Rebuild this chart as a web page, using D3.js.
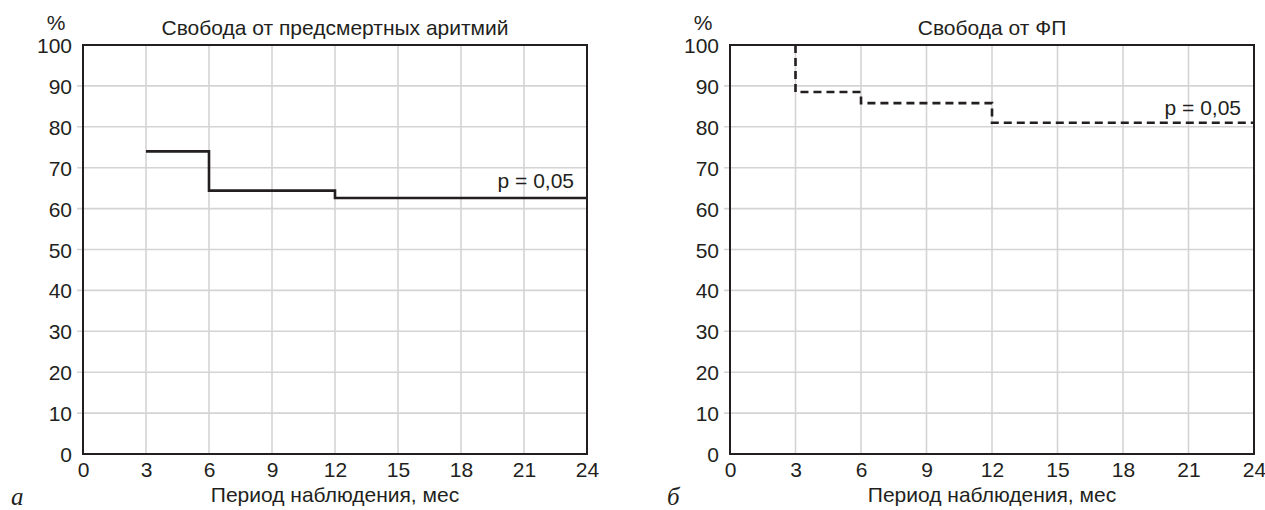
<!DOCTYPE html>
<html><head><meta charset="utf-8">
<script src="https://cdn.jsdelivr.net/npm/d3@7"></script>
<style>html,body{margin:0;padding:0;background:#fff;}svg{display:block;}</style>
</head><body>
<svg id="chart" width="1265" height="510"></svg>
<script>
// Data
const xTicks = [0,3,6,9,12,15,18,21,24];
const yTicks = [0,10,20,30,40,50,60,70,80,90,100];
const titleA = "Свобода от предсмертных аритмий";
const titleB = "Свобода от ФП";
const xLabel = "Период наблюдения, мес";
const pLabel = "p = 0,05";
// Panel A step curve: [month, %]
const stepsA_x = [3, 6, 6, 12, 12, 24];
const stepsA_y = [74, 74, 64.4, 64.4, 62.6, 62.6];
// Panel B step curve
const stepsB_x = [3, 3, 6, 6, 12, 12, 24];
const stepsB_y = [100, 88.5, 88.5, 85.8, 85.8, 81, 81];

const svg = d3.select("#chart");
const font = "Liberation Sans, Arial, sans-serif";
const ink = "#231f20";
const fs = 21;

function panel(cfg){
  const g = svg.append("g");
  const x = d3.scaleLinear().domain([0,24]).range([cfg.x0, cfg.x1]);
  const y = d3.scaleLinear().domain([0,100]).range([cfg.yb, cfg.yt]);
  // grid
  g.append("g").selectAll("line").data(xTicks.slice(1,-1)).join("line")
    .attr("x1", d=>x(d)).attr("x2", d=>x(d)).attr("y1", y(0)).attr("y2", y(100))
    .attr("stroke", "#d4d4d4").attr("stroke-width", 1.6);
  g.append("g").selectAll("line").data(yTicks.slice(1,-1)).join("line")
    .attr("x1", x(0)-6).attr("x2", x(24)).attr("y1", d=>y(d)).attr("y2", d=>y(d))
    .attr("stroke", "#d4d4d4").attr("stroke-width", 1.6);
  // axes via d3
  const yAxis = d3.axisLeft(y).tickValues(yTicks).tickSize(0).tickPadding(11);
  const ya = g.append("g").attr("transform", `translate(${x(0)},0)`).call(yAxis);
  ya.select(".domain").remove();
  ya.selectAll("text").attr("font-family", font).attr("font-size", fs).attr("fill", ink).attr("dy", "0.36em");
  const xAxis = d3.axisBottom(x).tickValues(xTicks).tickSize(0).tickPadding(8);
  const xa = g.append("g").attr("transform", `translate(0,${y(0)})`).call(xAxis);
  xa.select(".domain").remove();
  xa.selectAll("text").attr("font-family", font).attr("font-size", fs).attr("fill", ink).attr("dy", "0.72em");
  // frame
  g.append("rect").attr("x", x(0)).attr("y", y(100)).attr("width", x(24)-x(0)).attr("height", y(0)-y(100))
    .attr("fill", "none").attr("stroke", ink).attr("stroke-width", 2);
  // step line
  const line = d3.line().x(d=>x(d[0])).y(d=>y(d[1]));
  const pts = cfg.sx.map((v,i)=>[v, cfg.sy[i]]);
  g.append("path").attr("d", line(pts)).attr("fill", "none").attr("stroke", ink)
    .attr("stroke-width", 2.6).attr("stroke-dasharray", cfg.dash || null);
  // texts
  g.append("text").attr("x", (x(0)+x(24))/2).attr("y", 35).attr("text-anchor", "middle")
    .attr("font-family", font).attr("font-size", fs).attr("fill", ink).text(cfg.title);
  g.append("text").attr("x", x(0)-27).attr("y", 30).attr("text-anchor", "middle")
    .attr("font-family", font).attr("font-size", fs).attr("fill", ink).text("%");
  g.append("text").attr("x", (x(0)+x(24))/2).attr("y", 502).attr("text-anchor", "middle")
    .attr("font-family", font).attr("font-size", fs).attr("fill", ink).text(xLabel);
  g.append("text").attr("x", x(24)-13).attr("y", y(cfg.py)).attr("text-anchor", "end")
    .attr("font-family", font).attr("font-size", fs).attr("fill", ink).text(pLabel);
  g.append("text").attr("x", cfg.lx).attr("y", 505)
    .attr("font-family", "Liberation Serif, Times New Roman, serif").attr("font-style", "italic")
    .attr("font-size", 25).attr("fill", ink).text(cfg.letter);
}

panel({x0:83, x1:587, yt:45, yb:454, sx:stepsA_x, sy:stepsA_y, title:titleA, py:65.0, lx:11, letter:"а"});
panel({x0:730, x1:1254, yt:45, yb:454, sx:stepsB_x, sy:stepsB_y, title:titleB, py:82.9, lx:667, letter:"б", dash:"8,5"});
</script>
</body></html>
